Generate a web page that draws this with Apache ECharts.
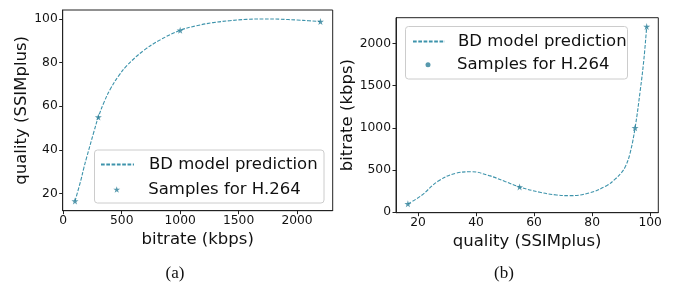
<!DOCTYPE html>
<html>
<head>
<meta charset="utf-8">
<script src="https://cdn.jsdelivr.net/npm/echarts@6/dist/echarts.min.js"></script>
<style>
html,body{margin:0;padding:0;background:#fff;}
#c{width:674px;height:283px;}
</style>
</head>
<body>
<div id="c"></div>
<script>
// ---- data ----
const sampleBitrate = [100, 300, 1000, 2200];
const sampleQuality = [16.5, 55, 94.8, 98.8];

// (a) quality vs bitrate, model curve
const curveABitrate = [100,150,177,200,262,300,350,404,475,546,687,829,1000,1141,1282,1424,1566,1708,1850,2000,2100,2200];
const curveAQuality = [16.5,26,32,36.5,48.3,55,62,68,74,78.7,85.5,90.4,94.8,96.9,98.3,99.2,99.8,100,99.9,99.5,99.2,98.8];

// (b) bitrate vs quality, model curve
const curveBQuality = [16.5,21,27,33,38.5,44.5,50,55,62,67.7,72.3,79,85,88,90,91.5,93,94.8,96.6,97.8,98.8];
const curveBBitrate = [100,195,370,462,480,434,365,300,237,205,197,229,315,395,465,545,690,1000,1450,1800,2200];

const ticksBitrate = [0, 500, 1000, 1500, 2000];
const ticksQualityA = [20, 40, 60, 80, 100];
const ticksQualityB = [20, 40, 60, 80, 100];
const ticksBitrateB = [0, 500, 1000, 1500, 2000];

const nameLine = 'BD model prediction';
const nameSamples = 'Samples for H.264';

// ---- styling ----
const lineColor = '#3d93ab';
const markColor = '#2d7f98';
const font = 'DejaVu Sans';
const starPath = 'path://M50,0 L61,35 L98,35 L68,57 L79,91 L50,70 L21,91 L32,57 L2,35 L39,35 Z';
const zip = (a, b) => a.map((v, i) => [v, b[i]]);

function axis(min, max, ticks, name, gap, isY) {
  return {
    type: 'value', min: min, max: max,
    name: name, nameLocation: 'middle', nameGap: gap,
    nameTextStyle: { fontFamily: font, fontSize: 16.5, color: '#111' },
    axisLine: { show: true, onZero: false, lineStyle: { color: '#222', width: 1 } },
    axisTick: { show: true, inside: false, length: 3.5, customValues: ticks, lineStyle: { color: '#222' } },
    axisLabel: { show: true, customValues: ticks, formatter: v => String(v), fontFamily: font, fontSize: 12.3, color: '#111', margin: isY ? 5 : 4 },
    splitLine: { show: false }
  };
}

function legendText(pad) {
  return { fontFamily: font, fontSize: 16.5, color: '#111', padding: [0, 0, 0, pad] };
}

const option = {
  animation: false,
  grid: [
    { left: 62.7, top: 10, width: 270, height: 200.7, show: true, borderColor: '#222', borderWidth: 1, containLabel: false },
    { left: 396, top: 17.7, width: 262.3, height: 195, show: true, borderColor: '#222', borderWidth: 1, containLabel: false }
  ],
  xAxis: [
    Object.assign(axis(-5, 2305, ticksBitrate, 'bitrate (kbps)', 20, false), { gridIndex: 0 }),
    Object.assign(axis(12.4, 102.8, ticksQualityB, 'quality (SSIMplus)', 19, false), { gridIndex: 1 })
  ],
  yAxis: [
    Object.assign(axis(12.1, 104.1, ticksQualityA, 'quality (SSIMplus)', 28.5, true), { gridIndex: 0 }),
    Object.assign(axis(-5, 2305, ticksBitrateB, 'bitrate (kbps)', 34.7, true), { gridIndex: 1 })
  ],
  legend: [
    { data: [nameLine], left: 100, top: 156, orient: 'vertical', padding: 0, itemWidth: 33, itemHeight: 14, z: 10,
      itemStyle: { opacity: 0 }, textStyle: legendText(10) },
    { data: [{ name: nameSamples, icon: starPath }], left: 113.3, top: 181, orient: 'vertical', padding: 0, itemWidth: 33, itemHeight: 6.5, z: 10,
      textStyle: legendText(10) },
    { data: [nameLine], left: 412, top: 33, orient: 'vertical', padding: 0, itemWidth: 32, itemHeight: 14, z: 10,
      itemStyle: { opacity: 0 }, textStyle: legendText(8) },
    { data: [{ name: nameSamples, icon: 'circle' }], left: 425.5, top: 56.3, orient: 'vertical', padding: 0, itemWidth: 32, itemHeight: 5, z: 10,
      textStyle: legendText(8) }
  ],
  graphic: [
    { type: 'rect', shape: { x: 94.5, y: 150, width: 229.5, height: 53, r: 3 }, style: { fill: 'rgba(255,255,255,0.8)', stroke: '#cccccc', lineWidth: 1 }, z: 5 },
    { type: 'rect', shape: { x: 405.5, y: 26.5, width: 222, height: 52.5, r: 3 }, style: { fill: 'rgba(255,255,255,0.8)', stroke: '#cccccc', lineWidth: 1 }, z: 5 },
    { type: 'text', x: 175, y: 274, style: { text: '(a)', font: '17px "Liberation Serif"', fill: '#111', textAlign: 'center', textVerticalAlign: 'middle' }, z: 5 },
    { type: 'text', x: 504, y: 274, style: { text: '(b)', font: '17px "Liberation Serif"', fill: '#111', textAlign: 'center', textVerticalAlign: 'middle' }, z: 5 }
  ],
  series: [
    { name: nameLine, type: 'line', xAxisIndex: 0, yAxisIndex: 0, data: zip(curveABitrate, curveAQuality),
      smooth: 0.4, showSymbol: false, symbol: 'none', lineStyle: { color: lineColor, width: 1.1, type: [3.7, 1.6] }, itemStyle: { color: lineColor } },
    { name: nameSamples, type: 'scatter', xAxisIndex: 0, yAxisIndex: 0, data: zip(sampleBitrate, sampleQuality),
      symbol: starPath, symbolSize: 7, itemStyle: { color: markColor }, z: 3 },
    { name: nameLine, type: 'line', xAxisIndex: 1, yAxisIndex: 1, data: zip(curveBQuality, curveBBitrate),
      smooth: 0.4, showSymbol: false, symbol: 'none', lineStyle: { color: lineColor, width: 1.1, type: [3.7, 1.6] }, itemStyle: { color: lineColor } },
    { name: nameSamples, type: 'scatter', xAxisIndex: 1, yAxisIndex: 1, data: zip(sampleQuality, sampleBitrate),
      symbol: starPath, symbolSize: 7, itemStyle: { color: markColor }, z: 3 }
  ]
};

const chart = echarts.init(document.getElementById('c'), null, { renderer: 'canvas' });
chart.setOption(option);
</script>
</body>
</html>
